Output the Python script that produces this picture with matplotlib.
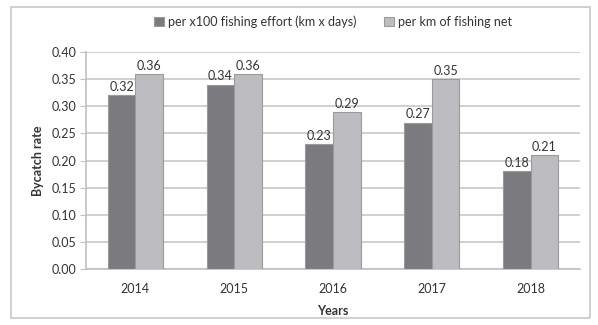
import numpy as np
import matplotlib.pyplot as plt
from matplotlib.patches import Rectangle

years = ['2014', '2015', '2016', '2017', '2018']
effort = [0.32, 0.34, 0.23, 0.27, 0.18]
net_km = [0.36, 0.36, 0.29, 0.35, 0.21]
yticks = [0.00, 0.05, 0.10, 0.15, 0.20, 0.25, 0.30, 0.35, 0.40]

plt.rcParams['font.family'] = ['Lato', 'DejaVu Sans']
FS = 9

fig = plt.figure(figsize=(5.98, 3.25), dpi=100)
ax = fig.add_axes([0.1438, 0.172, 0.826, 0.668])

# outer frame
fig.patches.append(Rectangle((11/598, 7/325), 579/598, 311/325, transform=fig.transFigure,
                             fill=False, edgecolor='#c8c8c8', linewidth=1.2))

x = np.arange(len(years))
w = 0.28
b1 = ax.bar(x - w/2, effort, w, color='#7b7b7f', edgecolor='#9a9a9a', linewidth=0.8,
            label='per x100 fishing effort (km x days)', zorder=3)
b2 = ax.bar(x + w/2, net_km, w, color='#bdbdc1', edgecolor='#9a9a9a', linewidth=0.8,
            label='per km of fishing net', zorder=3)

for bars, vals in ((b1, effort), (b2, net_km)):
    for r, v in zip(bars, vals):
        ax.text(r.get_x() + r.get_width()/2, v + 0.004, f'{v:.2f}', ha='center', va='bottom',
                fontsize=FS, color='#333333')

ax.set_xlim(-0.5, len(years) - 0.5)
ax.set_ylim(0, 0.40)
ax.set_yticks(yticks)
ax.set_yticklabels([f'{t:.2f}' for t in yticks])
ax.set_xticks(x)
ax.set_xticklabels(years)
ax.yaxis.grid(True, color='#c8c8c8', linewidth=1.2, zorder=0)
ax.set_axisbelow(True)
for s in ('top', 'right'):
    ax.spines[s].set_visible(False)
for s in ('left', 'bottom'):
    ax.spines[s].set_color('#c0c0c0')
    ax.spines[s].set_linewidth(1.2)
ax.tick_params(axis='y', length=4, color='#c0c0c0', labelsize=FS, labelcolor='#333333', pad=3)
ax.tick_params(axis='x', length=0, labelsize=FS, labelcolor='#333333', pad=10)

ax.set_ylabel('Bycatch rate', fontsize=FS, fontweight='bold', color='#333333', labelpad=5)
ax.set_xlabel('Years', fontsize=FS, fontweight='bold', color='#333333', labelpad=7)

ax.legend(loc='lower center', bbox_to_anchor=(0.5, 1.06), ncol=2, frameon=False,
          fontsize=FS, handlelength=0.8, handleheight=0.8, handletextpad=0.3,
          columnspacing=2.2, labelcolor='#333333')

fig.savefig('out.png', dpi=100)
